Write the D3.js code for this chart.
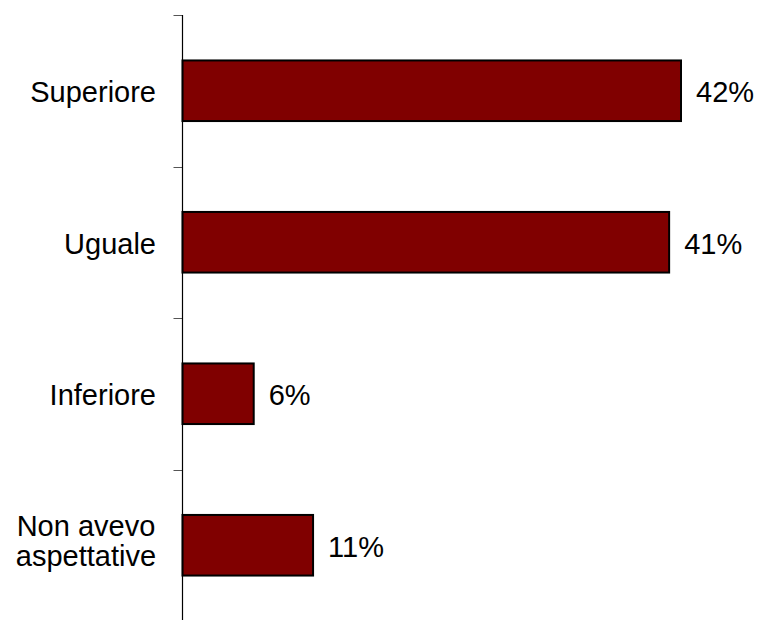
<!DOCTYPE html>
<html>
<head>
<meta charset="utf-8">
<script src="https://cdn.jsdelivr.net/npm/d3@7"></script>
<style>
  html, body { margin: 0; padding: 0; background: #fff; }
  svg { display: block; }
  text { font-family: "Liberation Sans", Arial, sans-serif; fill: #000; }
</style>
</head>
<body>
<script>
// Risposte: confronto con le aspettative
const categories = ["Superiore", "Uguale", "Inferiore", "Non avevo aspettative"];
const categoryLines = [["Superiore"], ["Uguale"], ["Inferiore"], ["Non avevo", "aspettative"]];
const values = [42, 41, 6, 11];
const valueLabels = ["42%", "41%", "6%", "11%"];

const width = 758, height = 620;
const axisX = 182.5;

const svg = d3.select("body").append("svg")
  .attr("width", width).attr("height", height);

const y = d3.scaleBand()
  .domain(categories)
  .range([15, 621])
  .paddingInner(0.6)
  .paddingOuter(0.3);

const x = d3.scaleLinear()
  .domain([0, 42])
  .range([axisX, 681]);

// bars
svg.selectAll("rect.bar")
  .data(categories)
  .join("rect")
  .attr("class", "bar")
  .attr("x", x(0))
  .attr("y", d => y(d))
  .attr("width", (d, i) => x(values[i]) - x(0))
  .attr("height", y.bandwidth())
  .attr("fill", "#800000")
  .attr("stroke", "#000")
  .attr("stroke-width", 2);

// category axis: line plus tick marks between the bands
const step = y.step();
const tickYs = d3.range(categories.length + 1).map(i => 15 + i * step);
svg.selectAll("line.tick")
  .data(tickYs)
  .join("line")
  .attr("class", "tick")
  .attr("x1", axisX - 9).attr("x2", axisX)
  .attr("y1", d => Math.round(d) + 0.5).attr("y2", d => Math.round(d) + 0.5)
  .attr("stroke", "#555").attr("stroke-width", 1);

svg.append("line")
  .attr("x1", axisX).attr("x2", axisX)
  .attr("y1", 15).attr("y2", 621)
  .attr("stroke", "#000").attr("stroke-width", 1.2);

// category labels
const fontSize = 29;
categories.forEach((c, i) => {
  const cy = y(c) + y.bandwidth() / 2;
  const lines = categoryLines[i];
  const t = svg.append("text")
    .attr("text-anchor", "end")
    .attr("font-size", fontSize);
  if (lines.length === 1) {
    t.append("tspan").attr("x", 156).attr("y", cy + 11.5).text(lines[0]);
  } else {
    t.attr("text-anchor", "middle");
    lines.forEach((l, k) => {
      t.append("tspan").attr("x", 86).attr("y", cy - 9 + k * 29.5).text(l);
    });
  }
});

// value labels
svg.selectAll("text.val")
  .data(categories)
  .join("text")
  .attr("class", "val")
  .attr("x", (d, i) => x(values[i]) + 15)
  .attr("y", d => y(d) + y.bandwidth() / 2 + 11.5)
  .attr("font-size", fontSize)
  .text((d, i) => valueLabels[i]);
</script>
</body>
</html>
